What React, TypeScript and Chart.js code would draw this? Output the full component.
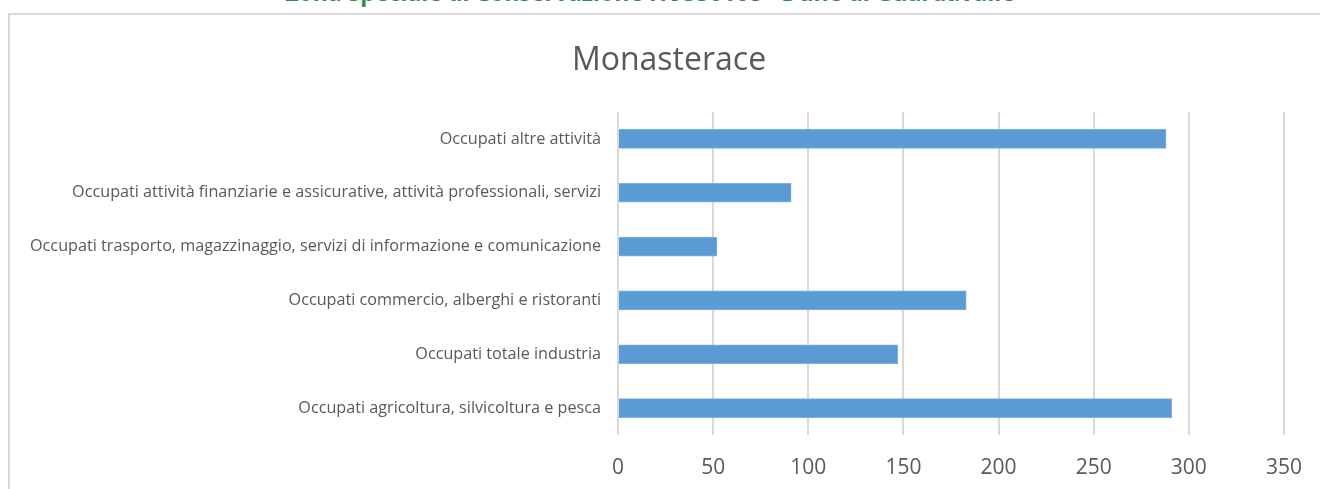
import React, { useEffect, useRef } from "react";
import { Chart, registerables } from "chart.js";

Chart.register(...registerables);

const chartTitle = "Monasterace";
const pageHeading = "Zona Speciale di Conservazione IT9330108 - Dune di Guardavalle";

const categories = [
  "Occupati altre attività",
  "Occupati attività finanziarie e assicurative, attività professionali, servizi",
  "Occupati trasporto, magazzinaggio, servizi di informazione e comunicazione",
  "Occupati commercio, alberghi e ristoranti",
  "Occupati totale industria",
  "Occupati agricoltura, silvicoltura e pesca",
];

const values = [288, 91, 52, 183, 147, 291];

const xMin = 0;
const xMax = 350;
const xStep = 50;

export default function App() {
  const canvasRef = useRef<HTMLCanvasElement | null>(null);

  useEffect(() => {
    if (!canvasRef.current) return;
    const chart = new Chart(canvasRef.current, {
      type: "bar",
      data: {
        labels: categories,
        datasets: [
          {
            data: values,
            backgroundColor: "#5b9bd5",
            borderColor: "#7fb0e0",
            borderWidth: 1,
            barThickness: 19,
          },
        ],
      },
      options: {
        indexAxis: "y",
        animation: false,
        responsive: false,
        maintainAspectRatio: false,
        layout: { padding: 0 },
        plugins: {
          legend: { display: false },
          tooltip: { enabled: false },
          title: {
            display: true,
            text: chartTitle,
            color: "#595959",
            font: { family: "'Open Sans', sans-serif", size: 32, weight: "normal" },
            padding: { top: 28, bottom: 31.6 },
          },
        },
        scales: {
          x: {
            min: xMin,
            max: xMax,
            ticks: {
              stepSize: xStep,
              color: "#595959",
              padding: 20,
              font: { family: "'Liberation Sans Narrow', 'Open Sans', sans-serif", size: 21 },
            },
            grid: { color: "#d9d9d9", lineWidth: 2, drawTicks: false },
            border: { display: false },
            afterFit: (s: any) => {
              s.height = 54;
              s.paddingRight = 45;
            },
          },
          y: {
            ticks: {
              color: "#595959",
              padding: 17,
              font: { family: "'Open Sans', sans-serif", size: 16.2 },
            },
            grid: { display: false, drawTicks: false },
            border: { display: false },
            afterFit: (s: any) => {
              s.width = 609;
            },
          },
        },
      },
    });
    return () => chart.destroy();
  }, []);

  return (
    <div
      style={{
        position: "fixed",
        left: 0,
        top: 0,
        width: 1320,
        height: 489,
        overflow: "hidden",
        background: "#ffffff",
      }}
    >
      <div
        style={{
          position: "absolute",
          left: 0,
          width: 1300,
          top: -20,
          textAlign: "center",
          fontFamily: "'Open Sans', sans-serif",
          fontWeight: "bold",
          fontSize: 23,
          lineHeight: "24px",
          color: "#2f8a4f",
          whiteSpace: "nowrap",
        }}
      >
        {pageHeading}
      </div>
      <div
        style={{
          position: "absolute",
          left: 8,
          top: 13,
          width: 1400,
          height: 600,
          border: "2px solid #d9d9d9",
          boxSizing: "border-box",
        }}
      />
      <canvas
        ref={canvasRef}
        width={1320}
        height={475}
        style={{ position: "absolute", left: 9, top: 14, width: 1320, height: 475 }}
      />
    </div>
  );
}
